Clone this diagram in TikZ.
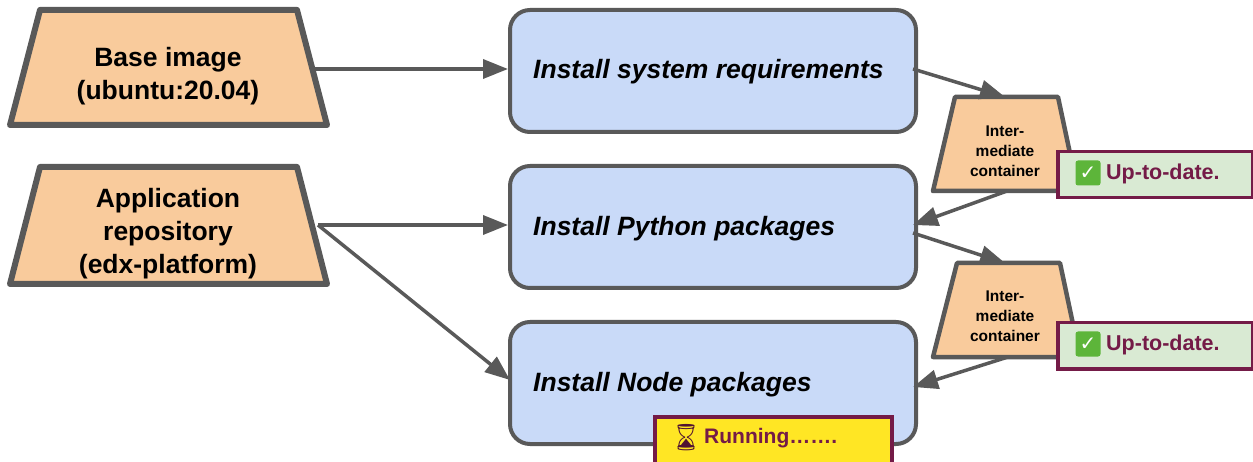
\documentclass[tikz,border=0pt]{standalone}
\usepackage{fontspec}
\setmainfont{Liberation Sans}
\newfontfamily\emojifont{Noto Emoji}
\newfontfamily\dejavu{DejaVu Sans}
\usetikzlibrary{arrows.meta,calc}
\definecolor{edgegray}{HTML}{595959}
\definecolor{orangefill}{HTML}{F9CB9C}
\definecolor{bluefill}{HTML}{C9DAF8}
\definecolor{greenfill}{HTML}{D9EAD3}
\definecolor{maroon}{HTML}{741B47}
\definecolor{yellowfill}{HTML}{FFE624}
\definecolor{checkgreen}{HTML}{5DB53A}
\tikzset{
  trap/.style={draw=edgegray, fill=orangefill, line width=6pt, line join=round},
  ctrap/.style={draw=edgegray, fill=orangefill, line width=4.5pt, line join=round},
  stepbox/.style={draw=edgegray, fill=bluefill, line width=4pt, rounded corners=20pt,
     minimum width=406pt, minimum height=122pt, anchor=north west, inner sep=0pt},
  steptext/.style={font=\bfseries\itshape\fontsize{26.5}{30}\selectfont, anchor=west, inner sep=0pt},
  srctext/.style={font=\bfseries\fontsize{26.5}{33}\selectfont, align=center, inner sep=0pt},
  ctext/.style={font=\bfseries\fontsize{15.5}{20}\selectfont, align=center, inner sep=0pt},
  badge/.style={draw=maroon, line width=3.5pt, anchor=north west, inner sep=0pt},
  badgetext/.style={text=maroon, font=\bfseries\fontsize{21.5}{24}\selectfont, anchor=west, inner sep=0pt},
  conn/.style={draw=edgegray, line width=3.5pt, -{Triangle[length=25pt,width=19pt]}},
  tick/.style={fill=checkgreen, text=white, rounded corners=2.5pt, minimum size=25pt, inner sep=0pt,
     font=\dejavu\bfseries\fontsize{20}{20}\selectfont},
}
\begin{document}
\begin{tikzpicture}[x=1pt,y=-1pt]
\useasboundingbox (0,0) rectangle (1253,462);
% source trapezoids
\draw[trap] (40,10) -- (297,10) -- (327,125) -- (10,125) -- cycle;
\node[srctext] (base) at (168,76) {Base image\\(ubuntu:20.04)};
\draw[trap] (40,167) -- (297,167) -- (327,284) -- (10,284) -- cycle;
\node[srctext] (app) at (168,234) {Application\\repository\\(edx-platform)};
\coordinate (baseR) at (315,69);
\coordinate (appR) at (318,225);
% step boxes
\node[stepbox] (sys) at (508,8) {};
\node[steptext] (systxt) at (533,72) {Install system requirements};
\node[stepbox] (py) at (508,164) {};
\node[steptext] (pytxt) at (533,229) {Install Python packages};
\node[stepbox] (nd) at (508,320) {};
\node[steptext] (ndtxt) at (533,385) {Install Node packages};
% intermediate containers
\draw[ctrap] (955,97) -- (1058,97) -- (1078,191) -- (933,191) -- cycle;
\node[ctext] (c1) at (1005,151) {Inter-\\mediate\\container};
\draw[ctrap] (957,263) -- (1060,263) -- (1080,357) -- (933,357) -- cycle;
\node[ctext] (c2) at (1005,316) {Inter-\\mediate\\container};
\coordinate (c1T) at (1005,97);
\coordinate (c1B) at (1007,191);
\coordinate (c2T) at (1005,263);
\coordinate (c2B) at (1008,357);
% connectors
\draw[conn] (baseR) -- (sys.west |- baseR);
\draw[conn] (appR) -- (py.west |- appR);
\draw[conn] (appR) -- (510,380);
\draw[conn] (913,69) -- (c1T);
\draw[conn] (c1B) -- (913,225);
\draw[conn] (913,233) -- (c2T);
\draw[conn] (c2B) -- (913,387);
% badges
\node[badge, fill=greenfill, minimum width=195pt, minimum height=46pt] (b1) at (1056,150) {};
\node[tick] (t1) at (1088,173) {✓};
\node[badgetext] (u1) at (1106,174) {Up-to-date.};
\node[badge, fill=greenfill, minimum width=195pt, minimum height=46pt] (b2) at (1056,321) {};
\node[tick] (t2) at (1088,344) {✓};
\node[badgetext] (u2) at (1106,345) {Up-to-date.};
\node[badge, fill=yellowfill, minimum width=237pt, minimum height=48pt] (r) at (653,415) {};
\node[text=maroon!70!black, font=\emojifont\fontsize{26}{26}\selectfont, inner sep=0pt] (hg) at (686,438) {⌛};
\node[badgetext, font=\bfseries\fontsize{21}{24}\selectfont] (run) at (704,438) {Running…….};
\end{tikzpicture}
\end{document}
